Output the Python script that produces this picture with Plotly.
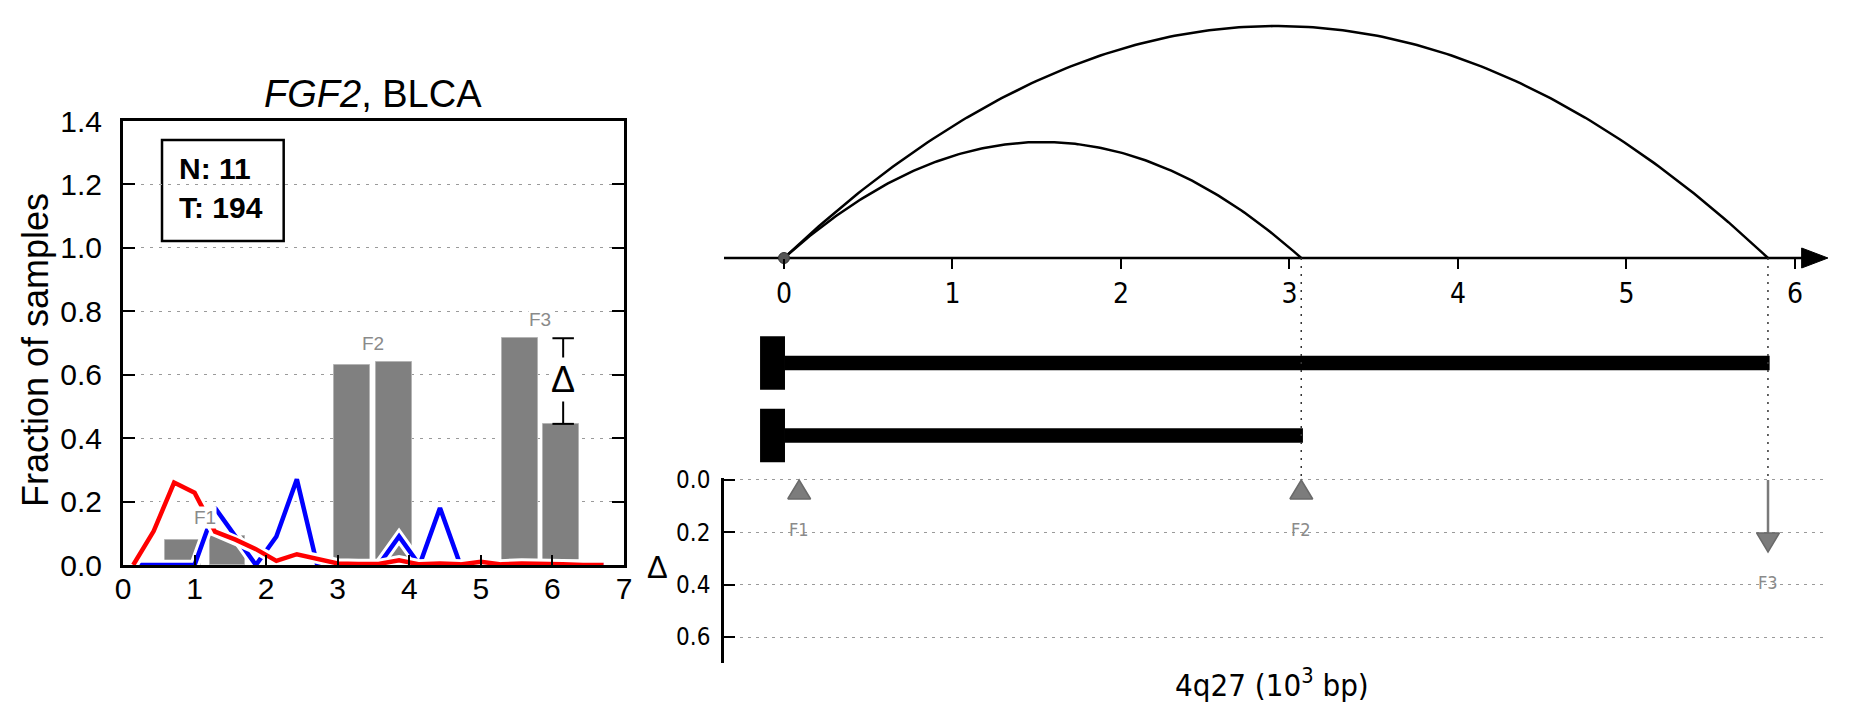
import numpy as np
import plotly.graph_objects as go

# page is 1852x718; the browser body adds an 8px margin, so the figure is 1836x702
OFF = 8
FW, FH = 1836, 702

# ---------------- data ----------------
# left panel: fraction of samples along the gene (10^3 bp)
bin_x = [0.143, 0.429, 0.714, 1.0, 1.286, 1.571, 1.857, 2.143, 2.429, 2.714,
         3.0, 3.286, 3.571, 3.857, 4.143, 4.429, 4.714, 5.0, 5.286, 5.571,
         5.857, 6.143, 6.429, 6.714]
red_frac = [0.0, 0.107, 0.26, 0.228, 0.105, 0.08, 0.05, 0.013, 0.034, 0.02,
            0.005, 0.003, 0.003, 0.015, 0.002, 0.005, 0.002, 0.01, 0.002, 0.005,
            0.005, 0.002, 0.0, 0.0]
blue_frac = [0.0, 0.0, 0.0, 0.0, 0.18, 0.09, 0.0, 0.09, 0.27, 0.0,
             0.0, 0.0, 0.0, 0.09, 0.0, 0.18, 0.0, 0.0, 0.0, 0.0,
             0.0, 0.0, 0.0, 0.0]

features = ["F1", "F2", "F3"]
bar_x = [0.84, 1.46, 3.2, 3.79, 5.545, 6.12]
bar_h = [0.078, 0.093, 0.63, 0.64, 0.715, 0.445]
bar_group = [0, 0, 1, 1, 2, 2]

n_normal, n_tumor = 11, 194
left_xticks = [0, 1, 2, 3, 4, 5, 6, 7]
left_yticks = [0.0, 0.2, 0.4, 0.6, 0.8, 1.0, 1.2, 1.4]

# right panel: junction arcs, isoforms and feature deltas (10^3 bp)
arc_start = [0.0, 0.0]
arc_end = [5.84, 3.07]
arc_height = [1.0, 0.5]
isoform_end = [5.85, 3.08]
feature_pos = [0.09, 3.07, 5.84]
feature_delta = [-0.017, -0.01, 0.275]
right_xticks = [0, 1, 2, 3, 4, 5, 6]
delta_ticks = [0.0, 0.2, 0.4, 0.6]

# ---------------- styling helpers ----------------
FONT = "Liberation Sans, Arial, sans-serif"
NARROW = "Liberation Sans Narrow, DejaVu Sans Condensed, Liberation Sans, sans-serif"
GRAY = "#808080"


def px_x(p):
    return (p - OFF) / FW


def px_y(p):
    return 1 - (p - OFF) / FH


fig = go.Figure()

# ---------- left panel ----------
fig.add_trace(go.Bar(x=bar_x, y=bar_h, width=0.5, marker=dict(color=GRAY, line=dict(color="#b4b4b4", width=1)),
                     xaxis="x", yaxis="y", showlegend=False, hoverinfo="skip"))
for col, vals in [("#0000ff", blue_frac), ("#ff0000", red_frac)]:
    fig.add_trace(go.Scatter(x=bin_x, y=vals, mode="lines", line=dict(color="white", width=10.5),
                             xaxis="x", yaxis="y", showlegend=False, hoverinfo="skip"))
    fig.add_trace(go.Scatter(x=bin_x, y=vals, mode="lines", line=dict(color=col, width=4.5),
                             xaxis="x", yaxis="y", showlegend=False, hoverinfo="skip"))

annotations = []
# group labels
for gi, name in enumerate(features):
    xs = [bar_x[i] for i in range(len(bar_x)) if bar_group[i] == gi]
    hs = [bar_h[i] for i in range(len(bar_x)) if bar_group[i] == gi]
    annotations.append(dict(x=float(np.mean(xs)), y=max(hs) + 0.058, xref="x", yref="y", text=name,
                            xanchor="center", yanchor="middle",
                            showarrow=False, font=dict(family=FONT, size=19, color="#8a8a8a"),
                            bgcolor="white", borderpad=0))

# delta bracket on F3
f3 = [i for i in range(len(bar_x)) if bar_group[i] == 2]
top = max(bar_h[i] for i in f3)
bot = min(bar_h[i] for i in f3)
ex = 6.15
fig.add_trace(go.Scatter(x=[ex, ex, None, ex - 0.15, ex + 0.15, None, ex - 0.15, ex + 0.15],
                         y=[top, bot, None, top, top, None, bot, bot], mode="lines",
                         line=dict(color="black", width=2), xaxis="x", yaxis="y",
                         showlegend=False, hoverinfo="skip"))
annotations.append(dict(x=ex, y=(top + bot) / 2 + 0.005, xref="x", yref="y", text="Δ", showarrow=False,
                        xanchor="center", yanchor="middle",
                        font=dict(family=FONT, size=36, color="black"), bgcolor="white", borderpad=1))

# N / T box
annotations.append(dict(x=0.75, y=1.19, xref="x", yref="y", xanchor="left", yanchor="middle", align="left",
                        text=f"<b>N: {n_normal}</b><br><b>T: {n_tumor}</b>", showarrow=False,
                        font=dict(family=FONT, size=30, color="black")))
shapes = [dict(type="rect", xref="x", yref="y", x0=0.545, x1=2.245, y0=1.022, y1=1.34,
               line=dict(color="black", width=2.5), fillcolor="white", layer="below")]

annotations.append(dict(x=px_x(373), y=px_y(94), xref="paper", yref="paper", text="<i>FGF2</i>, BLCA",
                        xanchor="center", yanchor="middle",
                        showarrow=False, font=dict(family=FONT, size=38, color="black")))
annotations.append(dict(x=px_x(35), y=px_y(350), xref="paper", yref="paper", text="Fraction of samples",
                        xanchor="center", yanchor="middle",
                        textangle=-90, showarrow=False, font=dict(family=FONT, size=36, color="black")))

# ---------- right panel: arcs ----------
for s, e, h in zip(arc_start, arc_end, arc_height):
    t = np.linspace(0, 1, 200)
    xs = s + (e - s) * t
    ys = 4 * h * t * (1 - t)
    fig.add_trace(go.Scatter(x=xs, y=ys, mode="lines", line=dict(color="black", width=2.5),
                             xaxis="x2", yaxis="y2", showlegend=False, hoverinfo="skip"))
# axis line with arrow
ax_left, ax_tip = -0.356, 6.196
hh = 10 / 232
fig.add_trace(go.Scatter(x=[ax_left, 6.06], y=[0, 0], mode="lines", line=dict(color="black", width=2.5),
                         xaxis="x2", yaxis="y2", showlegend=False, hoverinfo="skip"))
fig.add_trace(go.Scatter(x=[6.04, ax_tip, 6.04, 6.04], y=[hh, 0, -hh, hh], mode="lines", fill="toself",
                         fillcolor="black", line=dict(color="black", width=1),
                         xaxis="x2", yaxis="y2", showlegend=False, hoverinfo="skip"))
fig.add_trace(go.Scatter(x=[arc_start[0]], y=[0], mode="markers",
                         marker=dict(color="#555555", size=11, line=dict(color="#333", width=1)),
                         cliponaxis=False, xaxis="x2", yaxis="y2", showlegend=False, hoverinfo="skip"))

# ---------- isoform bars + dotted guides ----------
for i, e in enumerate(isoform_end, start=1):
    fig.add_trace(go.Scatter(x=[0.006, e], y=[i, i], mode="lines", line=dict(color="black", width=14.5),
                             xaxis="x4", yaxis="y4", showlegend=False, hoverinfo="skip"))
    shapes.append(dict(type="rect", xref="x4", yref="y4", x0=-0.142, x1=0.006, y0=i - 0.368, y1=i + 0.368,
                       line=dict(width=0), fillcolor="black"))
for e in sorted(set(arc_end)):
    fig.add_trace(go.Scatter(x=[e, e], y=[-0.448, 2.614], mode="lines",
                             line=dict(color="#333333", width=1.5, dash="2px,6px"),
                             xaxis="x4", yaxis="y4", showlegend=False, hoverinfo="skip"))

# ---------- delta panel ----------
head_h = 0.0726
head_w = 0.068
for name, xp, d in zip(features, feature_pos, feature_delta):
    if d < 0:
        tip = 0.0
        tri_y = [tip + head_h, tip, tip + head_h, tip + head_h]
        low = tip + head_h
    else:
        tip = d
        fig.add_trace(go.Scatter(x=[xp, xp], y=[0, tip - head_h], mode="lines",
                                 line=dict(color="#7a7a7a", width=2.5), xaxis="x3", yaxis="y3",
                                 showlegend=False, hoverinfo="skip", cliponaxis=False))
        tri_y = [tip - head_h, tip, tip - head_h, tip - head_h]
        low = tip
    fig.add_trace(go.Scatter(x=[xp - head_w, xp, xp + head_w, xp - head_w], y=tri_y, mode="lines",
                             fill="toself", fillcolor="#7c7c7c", line=dict(color="#6a6a6a", width=1.5),
                             xaxis="x3", yaxis="y3", showlegend=False, hoverinfo="skip"))
    annotations.append(dict(x=xp, y=low + 0.116, xref="x3", yref="y3", text=name, showarrow=False,
                            xanchor="center", yanchor="middle",
                            font=dict(family=NARROW, size=18, color="#8a8a8a")))

annotations.append(dict(x=px_x(657), y=px_y(567), xref="paper", yref="paper", text="Δ", showarrow=False,
                        xanchor="center", yanchor="middle",
                        font=dict(family=FONT, size=31, color="black")))
annotations.append(dict(x=px_x(1272), y=px_y(683), xref="paper", yref="paper",
                        text="4q27 (10<sup>3</sup> bp)", showarrow=False,
                        xanchor="center", yanchor="middle",
                        font=dict(family=NARROW, size=31, color="black")))

fig.update_layout(
    template="none",
    width=FW, height=FH, margin=dict(l=0, r=0, t=0, b=0, pad=0), autosize=False,
    paper_bgcolor="white", plot_bgcolor="rgba(0,0,0,0)", showlegend=False,
    bargap=0,
    xaxis=dict(domain=[px_x(123), px_x(624)], range=[0, 7], showline=True, linewidth=3, linecolor="black",
               mirror=True, ticks="inside", ticklen=10, tickwidth=1.5, tickcolor="black",
               tickvals=left_xticks, tickfont=dict(family=FONT, size=30, color="black"),
               ticklabelstandoff=-5,
               showgrid=False, zeroline=False, anchor="y", automargin=False),
    yaxis=dict(domain=[px_y(565), px_y(121)], range=[0, 1.4], showline=True, linewidth=3, linecolor="black",
               mirror="ticks", ticks="inside", ticklen=12, tickwidth=1.5, tickcolor="black",
               tickvals=left_yticks, ticktext=[f"{v:.1f}" for v in left_yticks],
               tickfont=dict(family=FONT, size=30, color="black"), ticklabelstandoff=12,
               showgrid=True, gridcolor="#9a9a9a", gridwidth=1, griddash="3px,6px",
               zeroline=False, anchor="x", automargin=False),
    xaxis2=dict(domain=[px_x(724), px_x(1834)], range=[-0.356, 6.232], anchor="free", position=px_y(258),
                showline=False, ticks="outside", ticklen=10, tickwidth=1.5, tickcolor="black",
                tickvals=right_xticks, tickfont=dict(family=NARROW, size=28, color="black"),
                showgrid=False, zeroline=False, automargin=False),
    yaxis2=dict(domain=[px_y(270), 1], range=[-12 / 232, 250 / 232], visible=False, anchor="x2",
                automargin=False),
    xaxis4=dict(domain=[px_x(724), px_x(1834)], range=[-0.356, 6.232], visible=False, anchor="y4",
                automargin=False),
    yaxis4=dict(domain=[px_y(480), px_y(258)], range=[2.614, -0.448], visible=False, anchor="x4",
                automargin=False),
    xaxis3=dict(domain=[px_x(724), px_x(1828)], range=[-0.356, 6.196], visible=False, anchor="y3",
                automargin=False),
    yaxis3=dict(domain=[px_y(663), px_y(478)], range=[0.6993, -0.0076], showline=True, linewidth=2.5,
                linecolor="black", ticks="inside", ticklen=11, tickwidth=1.5, tickcolor="black",
                tickvals=delta_ticks, ticktext=[f"{v:.1f}" for v in delta_ticks],
                tickfont=dict(family=NARROW, size=24, color="black"), ticklabelstandoff=6,
                showgrid=True, gridcolor="#9a9a9a", gridwidth=1, griddash="3px,5px",
                zeroline=False, anchor="x3", automargin=False),
    annotations=annotations, shapes=shapes,
)

fig.write_html("out.html")
